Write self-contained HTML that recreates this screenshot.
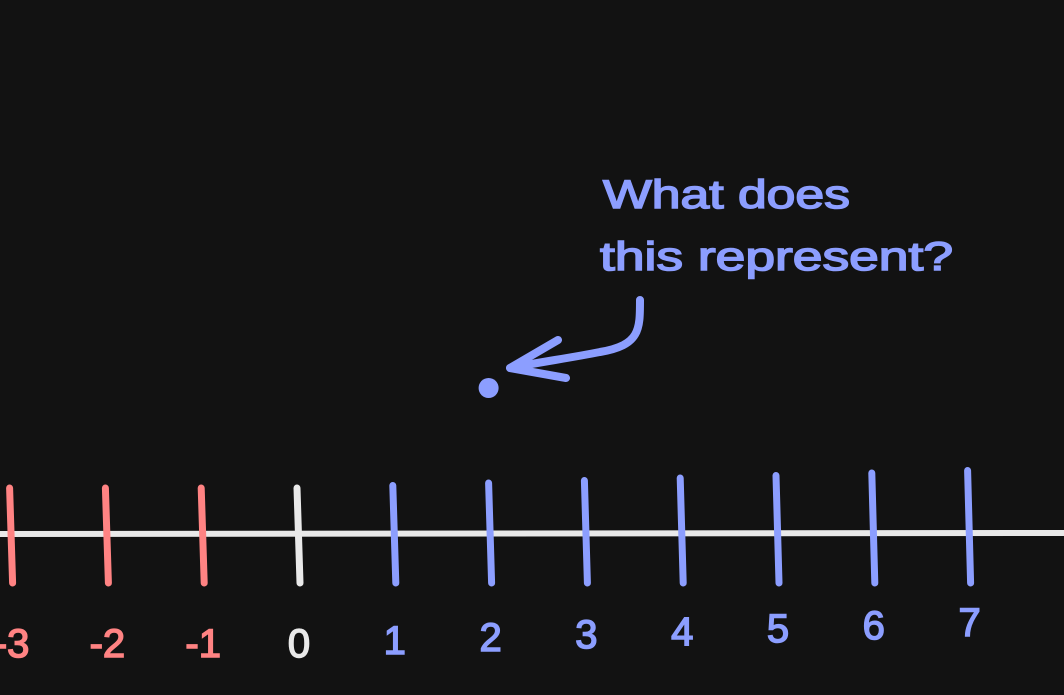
<!DOCTYPE html>
<html><head><meta charset="utf-8"><style>
html,body{margin:0;padding:0;background:#121212;width:1064px;height:695px;overflow:hidden}
svg{display:block}
text{font-family:"Liberation Sans",sans-serif}
</style></head><body>
<svg id="chart" width="1064" height="695" viewBox="0 0 1064 695">
<rect width="1064" height="695" fill="#121212"/>
<line x1="0" y1="534" x2="1064" y2="533" stroke="#e9e9e9" stroke-width="6" stroke-linecap="round"/>
<g id="ticks"></g>
<g id="labels"></g>
<text x="603" y="208" font-size="40" fill="#8c9eff" stroke="#8c9eff" stroke-width="1.5" textLength="247" lengthAdjust="spacingAndGlyphs">What does</text>
<text x="600" y="270" font-size="40" fill="#8c9eff" stroke="#8c9eff" stroke-width="1.5" textLength="353" lengthAdjust="spacingAndGlyphs">this represent?</text>
<path d="M640 300 C 640 330 640 345 600 352 C 570 358 540 362 510 368" fill="none" stroke="#8c9eff" stroke-width="8" stroke-linecap="round"/>
<path d="M558 340 L 510 368 L 566 378" fill="none" stroke="#8c9eff" stroke-width="8" stroke-linecap="round" stroke-linejoin="round"/>
<circle id="point" r="10" cy="388" fill="#8c9eff"/>
</svg>
<script>
const values = [-3,-2,-1,0,1,2,3,4,5,6,7];
const labels = ["-3","-2","-1","0","1","2","3","4","5","6","7"];
const pointValue = 2;
const x = v => 297 + v * 95.8;
const col = v => v < 0 ? "#ff8383" : (v === 0 ? "#e9e9e9" : "#8c9eff");
const ns = "http://www.w3.org/2000/svg";
const tg = document.getElementById("ticks"), lg = document.getElementById("labels");
values.forEach((v, i) => {
  const l = document.createElementNS(ns, "line");
  const top = 488 - Math.max(0, v) * 2.5;
  l.setAttribute("x1", x(v)); l.setAttribute("y1", top);
  l.setAttribute("x2", x(v) + 3); l.setAttribute("y2", 583);
  l.setAttribute("stroke", col(v)); l.setAttribute("stroke-width", "7"); l.setAttribute("stroke-linecap", "round");
  
  
  tg.appendChild(l);
  const t = document.createElementNS(ns, "text");
  t.setAttribute("x", x(v) + 2); t.setAttribute("y", 657 - Math.max(0, v) * 3);
  t.setAttribute("text-anchor", "middle"); t.setAttribute("font-size", "40"); t.setAttribute("fill", col(v));
  t.setAttribute("stroke", col(v)); t.setAttribute("stroke-width", "1.5");
  t.textContent = labels[i];
  
  
  lg.appendChild(t);
});
document.getElementById("point").setAttribute("cx", x(pointValue));
</script>
</body></html>
